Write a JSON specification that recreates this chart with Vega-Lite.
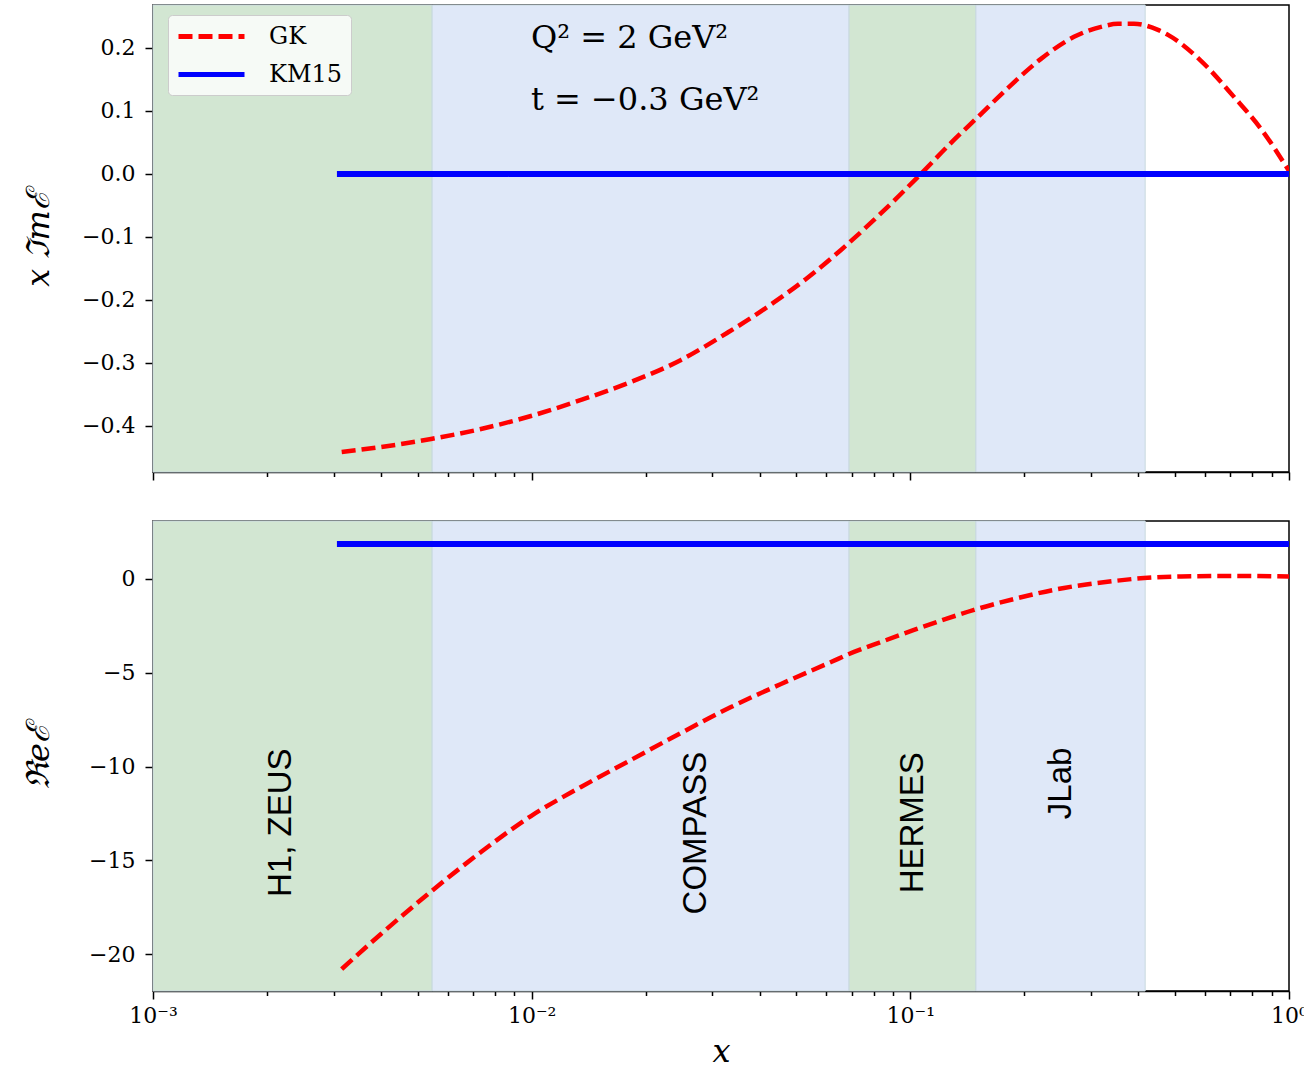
{
  "$schema": "https://vega.github.io/schema/vega-lite/v6.json",
  "padding": {"left": 21, "top": 3, "right": 0, "bottom": 0},
  "background": "white",
  "spacing": 37,
  "config": {
    "view": {"stroke": "black", "strokeWidth": 1.5},
    "axis": {
      "grid": false,
      "labelFont": "DejaVu Serif",
      "labelFontSize": 22,
      "labelColor": "black",
      "tickColor": "black",
      "tickWidth": 1.5,
      "domainColor": "black",
      "domainWidth": 1.5,
      "titleFont": "DejaVu Serif",
      "titleFontStyle": "italic",
      "titleFontWeight": "normal",
      "titleFontSize": 32,
      "titleColor": "black"
    },
    "legend": {
      "labelFont": "DejaVu Serif",
      "labelFontSize": 24,
      "labelColor": "black"
    }
  },
  "datasets": {
    "bands": [
      {"x0": 0.001, "x1": 0.00546, "band": "g"},
      {"x0": 0.00546, "x1": 0.0689, "band": "b"},
      {"x0": 0.0689, "x1": 0.149, "band": "g"},
      {"x0": 0.149, "x1": 0.417, "band": "b"}
    ],
    "imag": [
      {"model": "GK", "x": 0.00315, "y": -0.44127},
      {"model": "GK", "x": 0.004, "y": -0.43333},
      {"model": "GK", "x": 0.005421, "y": -0.42063},
      {"model": "GK", "x": 0.007348, "y": -0.40476},
      {"model": "GK", "x": 0.009959, "y": -0.38413},
      {"model": "GK", "x": 0.013498, "y": -0.35873},
      {"model": "GK", "x": 0.018294, "y": -0.33016},
      {"model": "GK", "x": 0.024797, "y": -0.29524},
      {"model": "GK", "x": 0.0328, "y": -0.25238},
      {"model": "GK", "x": 0.03795, "y": -0.2286},
      {"model": "GK", "x": 0.04418, "y": -0.20159},
      {"model": "GK", "x": 0.05303, "y": -0.16667},
      {"model": "GK", "x": 0.06559, "y": -0.12063},
      {"model": "GK", "x": 0.08017, "y": -0.07302},
      {"model": "GK", "x": 0.10476, "y": -0.00476},
      {"model": "GK", "x": 0.12808, "y": 0.04921},
      {"model": "GK", "x": 0.15094, "y": 0.09048},
      {"model": "GK", "x": 0.18112, "y": 0.13651},
      {"model": "GK", "x": 0.22131, "y": 0.18254},
      {"model": "GK", "x": 0.27053, "y": 0.21746},
      {"model": "GK", "x": 0.31893, "y": 0.23333},
      {"model": "GK", "x": 0.35359, "y": 0.2381},
      {"model": "GK", "x": 0.38964, "y": 0.2381},
      {"model": "GK", "x": 0.45082, "y": 0.22857},
      {"model": "GK", "x": 0.47915, "y": 0.22063},
      {"model": "GK", "x": 0.58553, "y": 0.17937},
      {"model": "GK", "x": 0.7156, "y": 0.12222},
      {"model": "GK", "x": 0.84334, "y": 0.07143},
      {"model": "GK", "x": 1.0, "y": 0.00476},
      {"model": "KM15", "x": 0.00306, "y": 0.0},
      {"model": "KM15", "x": 1.0, "y": 0.0}
    ],
    "real": [
      {"model": "GK", "x": 0.00315, "y": -20.8},
      {"model": "GK", "x": 0.004, "y": -18.93},
      {"model": "GK", "x": 0.005421, "y": -16.67},
      {"model": "GK", "x": 0.007348, "y": -14.56},
      {"model": "GK", "x": 0.009959, "y": -12.64},
      {"model": "GK", "x": 0.013498, "y": -11.09},
      {"model": "GK", "x": 0.018294, "y": -9.65},
      {"model": "GK", "x": 0.024797, "y": -8.21},
      {"model": "GK", "x": 0.033607, "y": -6.83},
      {"model": "GK", "x": 0.045546, "y": -5.6},
      {"model": "GK", "x": 0.06174, "y": -4.43},
      {"model": "GK", "x": 0.06887, "y": -4.0},
      {"model": "GK", "x": 0.0837, "y": -3.36},
      {"model": "GK", "x": 0.10225, "y": -2.72},
      {"model": "GK", "x": 0.12424, "y": -2.13},
      {"model": "GK", "x": 0.14731, "y": -1.65},
      {"model": "GK", "x": 0.18786, "y": -1.07},
      {"model": "GK", "x": 0.25457, "y": -0.48},
      {"model": "GK", "x": 0.34499, "y": -0.11},
      {"model": "GK", "x": 0.41418, "y": 0.05},
      {"model": "GK", "x": 0.51861, "y": 0.13},
      {"model": "GK", "x": 0.70288, "y": 0.16},
      {"model": "GK", "x": 1.0, "y": 0.13},
      {"model": "KM15", "x": 0.00306, "y": 1.87},
      {"model": "KM15", "x": 1.0, "y": 1.87}
    ],
    "ann": [
      {"x": 0.00996, "y": 0.216, "t": "Q² = 2 GeV²"},
      {"x": 0.00996, "y": 0.117, "t": "t = −0.3 GeV²"}
    ],
    "labels": [
      {"x": 0.00218, "y": -13.0, "t": "H1, ZEUS"},
      {"x": 0.02716, "y": -13.55, "t": "COMPASS"},
      {"x": 0.1016, "y": -13.0, "t": "HERMES"},
      {"x": 0.25, "y": -10.9, "t": "JLab"}
    ]
  },
  "resolve": {"scale": {"fill": "independent", "color": "independent", "strokeDash": "independent"}},
  "vconcat": [
    {
      "width": 1136,
      "height": 467,
      "layer": [
        {
          "data": {"name": "bands"},
          "mark": {"type": "rect", "stroke": "#c8d8de", "strokeWidth": 1},
          "encoding": {
            "x": {
              "field": "x0", "type": "quantitative",
              "scale": {"type": "log", "domain": [0.001, 1], "nice": false},
              "axis": {
                "values": [0.001, 0.002, 0.003, 0.004, 0.005, 0.006, 0.007, 0.008, 0.009, 0.01, 0.02, 0.03, 0.04, 0.05, 0.06, 0.07, 0.08, 0.09, 0.1, 0.2, 0.3, 0.4, 0.5, 0.6, 0.7, 0.8, 0.9, 1],
                "labels": false,
                "title": null,
                "tickSize": {"condition": {"test": "datum.value == 0.001 || datum.value == 0.01 || datum.value == 0.1 || datum.value == 1", "value": 8}, "value": 4.5}
              }
            },
            "x2": {"field": "x1"},
            "fill": {"field": "band", "type": "nominal", "scale": {"domain": ["g", "b"], "range": ["#d2e6d2", "#dfe8f8"]}, "legend": null}
          }
        },
        {
          "data": {"name": "imag"},
          "transform": [{"filter": "datum.model == 'GK'"}],
          "mark": {"type": "line", "strokeWidth": 4.5, "clip": true, "interpolate": "monotone"},
          "encoding": {
            "x": {"field": "x", "type": "quantitative"},
            "y": {
              "field": "y", "type": "quantitative",
              "scale": {"domain": [-0.473, 0.268], "nice": false, "zero": false},
              "axis": {"values": [-0.4, -0.3, -0.2, -0.1, 0, 0.1, 0.2], "format": ".1f", "title": "x ℑmℰ", "tickSize": 8, "labelPadding": 10, "minExtent": 80, "maxExtent": 80, "titlePadding": 18}
            },
            "color": {"field": "model", "type": "nominal", "scale": {"domain": ["GK", "KM15"], "range": ["#ff0000", "#0000ff"]},
              "legend": {"title": null, "orient": "none", "legendX": 15, "legendY": 10, "fillColor": "#f6faf6", "strokeColor": "#cccccc", "cornerRadius": 4, "padding": 8, "symbolType": "M-1,0H5", "symbolSize": 484, "symbolStrokeWidth": 5, "labelOffset": 66, "rowPadding": 12}},
            "strokeDash": {"field": "model", "type": "nominal", "scale": {"domain": ["GK", "KM15"], "range": [[14, 6], [1, 0]]},
              "legend": {"title": null, "orient": "none", "legendX": 15, "legendY": 10, "fillColor": "#f6faf6", "strokeColor": "#cccccc", "cornerRadius": 4, "padding": 8, "symbolType": "M-1,0H5", "symbolSize": 484, "symbolStrokeWidth": 5, "labelOffset": 66, "rowPadding": 12}}
          }
        },
        {
          "data": {"name": "imag"},
          "transform": [{"filter": "datum.model == 'KM15'"}],
          "mark": {"type": "line", "strokeWidth": 6, "clip": true},
          "encoding": {
            "x": {"field": "x", "type": "quantitative"},
            "y": {"field": "y", "type": "quantitative"},
            "color": {"field": "model", "type": "nominal"},
            "strokeDash": {"field": "model", "type": "nominal"}
          }
        },
        {
          "data": {"name": "ann"},
          "mark": {"type": "text", "align": "left", "baseline": "middle", "font": "DejaVu Serif", "fontSize": 32, "color": "black"},
          "encoding": {
            "x": {"field": "x", "type": "quantitative"},
            "y": {"field": "y", "type": "quantitative"},
            "text": {"field": "t"}
          }
        }
      ]
    },
    {
      "width": 1136,
      "height": 470,
      "layer": [
        {
          "data": {"name": "bands"},
          "mark": {"type": "rect", "stroke": "#c8d8de", "strokeWidth": 1},
          "encoding": {
            "x": {
              "field": "x0", "type": "quantitative",
              "scale": {"type": "log", "domain": [0.001, 1], "nice": false},
              "axis": {
                "values": [0.001, 0.002, 0.003, 0.004, 0.005, 0.006, 0.007, 0.008, 0.009, 0.01, 0.02, 0.03, 0.04, 0.05, 0.06, 0.07, 0.08, 0.09, 0.1, 0.2, 0.3, 0.4, 0.5, 0.6, 0.7, 0.8, 0.9, 1],
                "labelExpr": "datum.value == 0.001 ? '10⁻³' : datum.value == 0.01 ? '10⁻²' : datum.value == 0.1 ? '10⁻¹' : datum.value == 1 ? '10⁰' : ''",
                "labelFlush": false,
                "labelOverlap": false,
                "labelPadding": 6,
                "title": "x",
                "titlePadding": 10,
                "tickSize": {"condition": {"test": "datum.value == 0.001 || datum.value == 0.01 || datum.value == 0.1 || datum.value == 1", "value": 8}, "value": 4.5}
              }
            },
            "x2": {"field": "x1"},
            "fill": {"field": "band", "type": "nominal", "scale": {"domain": ["g", "b"], "range": ["#d2e6d2", "#dfe8f8"]}, "legend": null}
          }
        },
        {
          "mark": {"type": "rule", "color": "#008000", "strokeWidth": 1.3},
          "encoding": {"y": {"datum": 0, "type": "quantitative"}}
        },
        {
          "data": {"name": "real"},
          "transform": [{"filter": "datum.model == 'GK'"}],
          "mark": {"type": "line", "strokeWidth": 4.5, "color": "#ff0000", "strokeDash": [14, 6], "clip": true, "interpolate": "monotone"},
          "encoding": {
            "x": {"field": "x", "type": "quantitative"},
            "y": {
              "field": "y", "type": "quantitative",
              "scale": {"domain": [-21.97, 3.09], "nice": false, "zero": false},
              "axis": {"values": [-20, -15, -10, -5, 0], "format": "d", "title": "ℜeℰ", "tickSize": 8, "labelPadding": 10, "minExtent": 80, "maxExtent": 80, "titlePadding": 18}
            }
          }
        },
        {
          "data": {"name": "real"},
          "transform": [{"filter": "datum.model == 'KM15'"}],
          "mark": {"type": "line", "strokeWidth": 6, "color": "#0000ff", "clip": true},
          "encoding": {
            "x": {"field": "x", "type": "quantitative"},
            "y": {"field": "y", "type": "quantitative"}
          }
        },
        {
          "data": {"name": "labels"},
          "mark": {"type": "text", "angle": 270, "align": "center", "baseline": "middle", "font": "Liberation Sans", "fontSize": 33, "color": "black"},
          "encoding": {
            "x": {"field": "x", "type": "quantitative"},
            "y": {"field": "y", "type": "quantitative"},
            "text": {"field": "t"}
          }
        }
      ]
    }
  ]
}
